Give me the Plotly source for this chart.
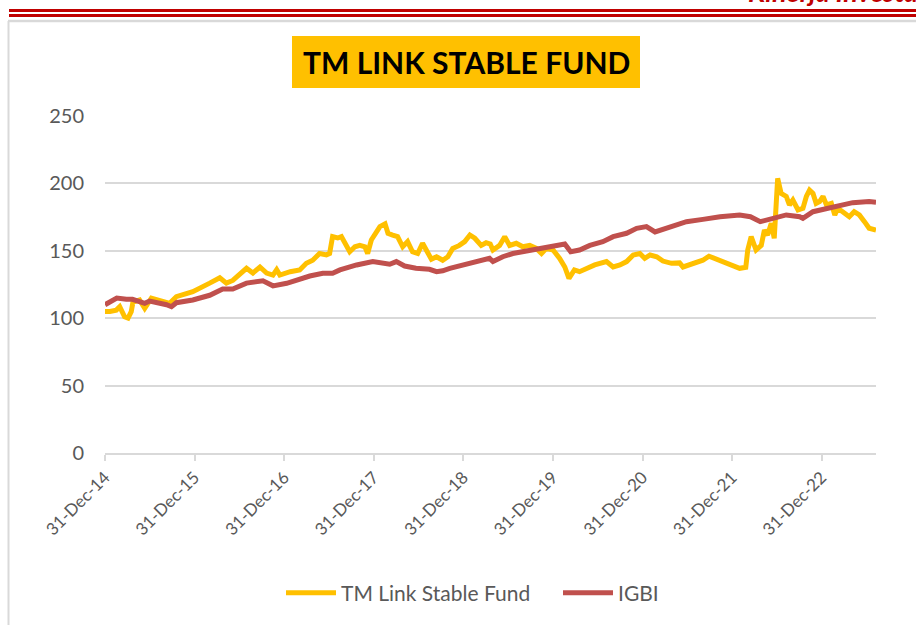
import plotly.graph_objects as go

# ---------------- data ----------------
fund_dates = [
    "2014-12-31", "2015-01-20", "2015-02-15", "2015-03-01", "2015-03-21", "2015-04-04",
    "2015-04-17", "2015-04-24", "2015-05-21", "2015-06-11", "2015-07-08", "2015-09-08",
    "2015-09-21", "2015-10-18", "2015-12-24", "2016-03-02", "2016-04-12", "2016-05-09",
    "2016-06-04", "2016-07-30", "2016-08-25", "2016-09-23", "2016-10-20", "2016-11-15",
    "2016-11-30", "2016-12-13", "2017-01-24", "2017-03-04", "2017-03-31", "2017-04-26",
    "2017-05-24", "2017-06-21", "2017-07-04", "2017-07-16", "2017-08-06", "2017-08-21",
    "2017-09-04", "2017-09-24", "2017-10-15", "2017-11-04", "2017-11-25", "2017-12-06",
    "2017-12-21", "2018-01-12", "2018-01-25", "2018-02-15", "2018-02-27", "2018-03-18",
    "2018-04-07", "2018-04-28", "2018-05-18", "2018-06-07", "2018-06-28", "2018-07-18",
    "2018-08-08", "2018-08-23", "2018-09-13", "2018-10-08", "2018-10-29", "2018-11-18",
    "2018-12-15", "2019-01-06", "2019-01-27", "2019-02-16", "2019-03-14", "2019-04-03",
    "2019-04-20", "2019-05-01", "2019-05-28", "2019-06-18", "2019-07-08", "2019-08-04",
    "2019-08-31", "2019-09-28", "2019-10-25", "2019-11-15", "2019-12-05", "2020-01-01",
    "2020-01-28", "2020-02-18", "2020-03-06", "2020-03-28", "2020-04-18", "2020-05-15",
    "2020-06-19", "2020-08-06", "2020-09-02", "2020-09-30", "2020-10-27", "2020-11-23",
    "2020-12-20", "2021-01-09", "2021-01-31", "2021-02-27", "2021-03-24", "2021-04-28",
    "2021-05-31", "2021-06-14", "2021-07-11", "2021-08-07", "2021-09-03", "2021-09-28",
    "2021-10-20", "2021-11-12", "2021-12-08", "2022-01-04", "2022-01-31", "2022-02-25",
    "2022-03-05", "2022-03-19", "2022-04-08", "2022-04-29", "2022-05-12", "2022-05-25",
    "2022-06-09", "2022-06-21", "2022-06-30", "2022-07-05", "2022-07-19", "2022-08-09",
    "2022-08-22", "2022-09-05", "2022-09-26", "2022-10-16", "2022-10-30", "2022-11-12",
    "2022-11-26", "2022-12-09", "2022-12-23", "2023-01-06", "2023-01-20", "2023-02-09",
    "2023-02-23", "2023-03-07", "2023-03-27", "2023-04-23", "2023-05-13", "2023-06-03",
    "2023-06-24", "2023-07-13", "2023-08-10",
]
fund_values = [
    105, 105, 106, 108.5, 101, 100,
    104.8, 112, 113.5, 107.3, 114.8, 112,
    111, 116, 119.7, 126, 130, 126,
    128, 137, 133.5, 138, 133.5, 132,
    136, 132, 134.5, 135.8, 140.7, 143,
    148, 147, 148, 160.5, 159.5, 160.5,
    155.6, 149.3, 153, 154, 153, 148,
    158, 165.4, 168, 170, 163, 161.7,
    160.5, 153, 156.8, 149.3, 148, 155.6,
    148, 143.7, 145.6, 143, 145.6, 151.8,
    154, 156.8, 161.7, 159.3, 154, 156,
    155, 150.6, 154, 160.5, 154, 155.6,
    153, 154, 151.8, 148, 151.8, 150.6,
    144.4, 138, 129.6, 135.8, 134.5, 137,
    139.5, 142, 138, 139.5, 142, 146.9,
    148, 144.4, 146.9, 145.6, 142.4, 140.7,
    141, 138, 139.5, 140.7, 143, 146,
    144.4, 142, 140.7, 138, 137, 137.8,
    150.6, 160.5, 150.6, 154, 165.4, 161.7,
    170.4, 159.3, 185.2, 203.8, 192.6, 190.3,
    184, 187.7, 180.3, 181.5, 190.3, 195,
    192.6, 185.2, 186.5, 190.3, 184, 185.2,
    176.6, 181.5, 179, 175.3, 179, 176.6,
    171.6, 166.7, 165.4,
]

igbi_dates = [
    "2014-12-31", "2015-02-17", "2015-03-28", "2015-04-22", "2015-06-11", "2015-07-01",
    "2015-09-08", "2015-09-28", "2015-10-18", "2015-12-24", "2016-03-02", "2016-04-24",
    "2016-06-04", "2016-07-30", "2016-10-05", "2016-11-15", "2017-01-10", "2017-03-04",
    "2017-04-14", "2017-06-06", "2017-07-16", "2017-08-15", "2017-10-22", "2017-12-27",
    "2018-01-25", "2018-03-06", "2018-04-02", "2018-05-06", "2018-06-21", "2018-08-15",
    "2018-09-13", "2018-10-08", "2018-11-06", "2018-12-29", "2019-02-23", "2019-03-19",
    "2019-04-17", "2019-05-01", "2019-06-10", "2019-07-21", "2019-08-31", "2019-10-12",
    "2019-12-05", "2020-01-16", "2020-02-18", "2020-03-13", "2020-04-18", "2020-05-30",
    "2020-07-22", "2020-09-02", "2020-10-27", "2020-12-07", "2021-01-16", "2021-02-20",
    "2021-04-07", "2021-05-31", "2021-06-28", "2021-09-03", "2021-11-12", "2022-01-31",
    "2022-03-16", "2022-04-25", "2022-05-19", "2022-07-01", "2022-08-09", "2022-10-03",
    "2022-10-16", "2022-11-26", "2023-01-20", "2023-03-13", "2023-05-07", "2023-07-13",
    "2023-08-10",
]
igbi_values = [
    110, 115, 114, 114, 111, 112.7,
    110, 108.5, 111.5, 113.5, 117, 121.6,
    121.6, 126, 127.8, 124, 125.9, 129.2,
    131.3, 133.3, 133.3, 135.8, 139.5, 142,
    141, 140, 142, 138.7, 137, 136.3,
    134.5, 135.2, 137, 139.5, 142, 143.7,
    144.4, 142, 145.6, 148, 149.3, 150.6,
    151.8, 154, 155, 149.3, 150.6, 154,
    156.8, 160.5, 163, 166.7, 168, 164,
    166.7, 169, 171.6, 173.3, 175.3, 176.6,
    175.3, 171.6, 172.8, 174, 176.6, 175.3,
    174, 179, 181.5, 184, 185.7, 186.5,
    186,
]

tick_dates = ["2014-12-31", "2015-12-31", "2016-12-31", "2017-12-31", "2018-12-31",
              "2019-12-31", "2020-12-31", "2021-12-31", "2022-12-31"]
tick_labels = ["31-Dec-14", "31-Dec-15", "31-Dec-16", "31-Dec-17", "31-Dec-18",
               "31-Dec-19", "31-Dec-20", "31-Dec-21", "31-Dec-22"]

series_names = ["TM Link Stable Fund", "IGBI"]
title_text = "TM LINK STABLE FUND"
header_text = "Kinerja Investasi"

# ---------------- layout helpers ----------------
W, H = 916, 625
PL, PR, PT, PB = 105, 876, 116, 453  # plot area in pixels


def px(x):
    return (x - PL) / (PR - PL)


def py(y):
    return (PB - y) / (PB - PT)


FONT = "Lato, 'Open Sans', sans-serif"
GREY_TXT = "#595959"
GRID = "#D9D9D9"

fig = go.Figure()
fig.add_trace(go.Scatter(x=fund_dates, y=fund_values, mode="lines", name=series_names[0],
                         line=dict(color="#FFC000", width=5)))
fig.add_trace(go.Scatter(x=igbi_dates, y=igbi_values, mode="lines", name=series_names[1],
                         line=dict(color="#C0504D", width=5)))

shapes = [
    # red double header lines
    dict(type="line", xref="paper", yref="paper", x0=px(9), x1=px(916), y0=py(10.5), y1=py(10.5),
         line=dict(color="#C00000", width=3)),
    dict(type="line", xref="paper", yref="paper", x0=px(9), x1=px(916), y0=py(15.5), y1=py(15.5),
         line=dict(color="#C00000", width=3)),
    # grey frame
    dict(type="line", xref="paper", yref="paper", x0=px(8), x1=px(916), y0=py(21), y1=py(21),
         line=dict(color="#D9D9D9", width=2.5)),
    dict(type="line", xref="paper", yref="paper", x0=px(8.5), x1=px(8.5), y0=py(21), y1=py(625),
         line=dict(color="#D9D9D9", width=2)),
    # title box
    dict(type="rect", xref="paper", yref="paper", x0=px(292), x1=px(640), y0=py(36), y1=py(88),
         fillcolor="#FFC000", line=dict(width=0), layer="below"),
]

annotations = [
    dict(text="<b>" + title_text + "</b>", xref="paper", yref="paper", x=px(466), y=py(62),
         xanchor="center", yanchor="middle", showarrow=False,
         font=dict(family=FONT, size=30, color="#000000")),
    dict(text="<b><i>" + header_text + "</i></b>", xref="paper", yref="paper", x=px(746), y=py(10),
         xanchor="left", yanchor="bottom", showarrow=False,
         font=dict(family=FONT, size=27, color="#C00000")),
]

fig.update_layout(
    width=W, height=H,
    margin=dict(l=PL, r=W - PR, t=PT, b=H - PB),
    paper_bgcolor="white", plot_bgcolor="white",
    font=dict(family=FONT, color=GREY_TXT),
    shapes=shapes, annotations=annotations,
    showlegend=True,
    legend=dict(orientation="h", x=px(281), xanchor="left", y=py(593), yanchor="middle",
                font=dict(size=21, color=GREY_TXT), itemwidth=50,
                entrywidth=212, entrywidthmode="pixels"),
    xaxis=dict(type="date", range=["2014-12-31", "2023-08-10"],
               tickmode="array", tickvals=tick_dates, ticktext=tick_labels,
               tickangle=-45, tickfont=dict(size=17, color=GREY_TXT),
               ticks="outside", ticklen=6, tickcolor=GRID, tickwidth=1.5,
               showline=True, linecolor=GRID, linewidth=1.5,
               showgrid=False, zeroline=False),
    yaxis=dict(range=[0, 250], tickmode="linear", tick0=0, dtick=50,
               tickfont=dict(size=20, color=GREY_TXT),
               showgrid=True, gridcolor=GRID, gridwidth=1.5,
               showline=False, zeroline=False, ticklabelstandoff=20),
)

fig.write_html("out.html", config={"displayModeBar": False},
               post_script="document.body.style.margin='0px';")
